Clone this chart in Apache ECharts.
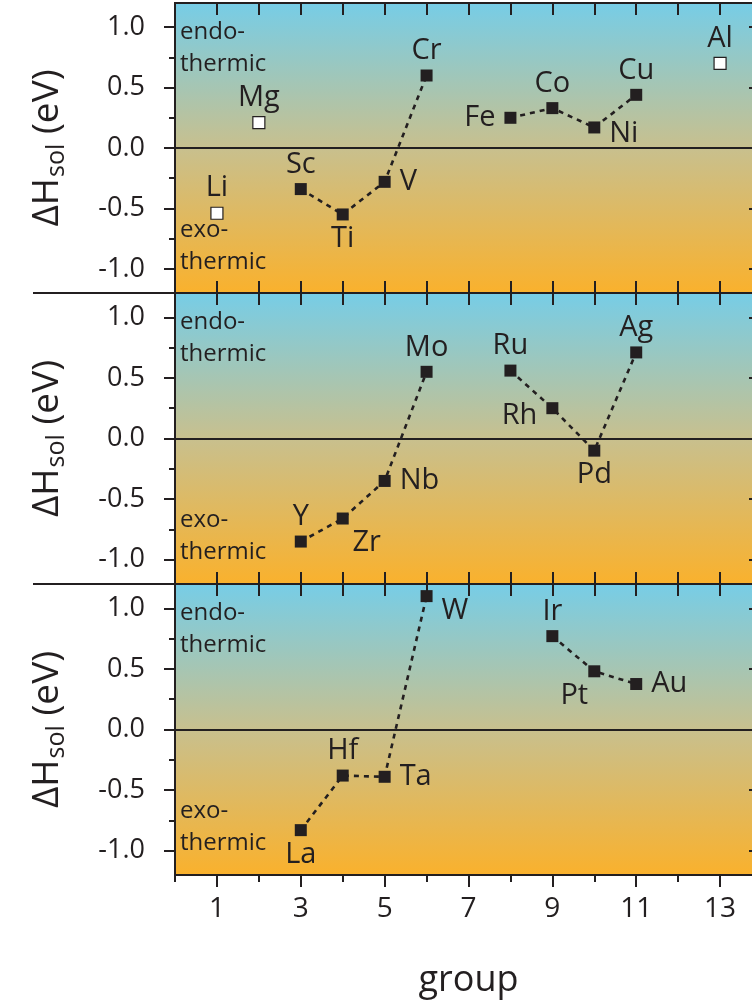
<!DOCTYPE html>
<html>
<head>
<meta charset="utf-8">
<script src="https://cdn.jsdelivr.net/npm/echarts@6/dist/echarts.min.js"></script>
<style>html,body{margin:0;padding:0;background:#fff;}#c{width:752px;height:1005px;}</style>
</head>
<body>
<div id="c"></div>
<script>
// ---------- data ----------
const row1OpenNames = ['Li', 'Mg', 'Al'];
const row1OpenX = [1, 2, 13];
const row1OpenY = [-0.54, 0.21, 0.70];

const row1ANames = ['Sc', 'Ti', 'V', 'Cr'];
const row1AX = [3, 4, 5, 6];
const row1AY = [-0.34, -0.55, -0.28, 0.60];
const row1BNames = ['Fe', 'Co', 'Ni', 'Cu'];
const row1BX = [8, 9, 10, 11];
const row1BY = [0.25, 0.33, 0.17, 0.44];

const row2ANames = ['Y', 'Zr', 'Nb', 'Mo'];
const row2AX = [3, 4, 5, 6];
const row2AY = [-0.85, -0.66, -0.35, 0.55];
const row2BNames = ['Ru', 'Rh', 'Pd', 'Ag'];
const row2BX = [8, 9, 10, 11];
const row2BY = [0.56, 0.25, -0.10, 0.71];

const row3ANames = ['La', 'Hf', 'Ta', 'W'];
const row3AX = [3, 4, 5, 6];
const row3AY = [-0.83, -0.38, -0.39, 1.10];
const row3BNames = ['Ir', 'Pt', 'Au'];
const row3BX = [9, 10, 11];
const row3BY = [0.77, 0.48, 0.375];

const xLabelValues = [1, 3, 5, 7, 9, 11, 13];
const xMinorValues = [0, 2, 4, 6, 8, 10, 12, 14];
const yLabelValues = [-1, -0.5, 0, 0.5, 1];
const yMinorValues = [-0.75, -0.25, 0.25, 0.75];
const xName = 'group';
const endoText = 'endo-\nthermic';
const exoText = 'exo-\nthermic';

// ---------- style ----------
const FONT = 'Open Sans';
const DARK = '#231F20';
const labelPlace = {
  Li: ['top', 0, 0], Mg: ['top', 0, 0], Al: ['top', 0, 0],
  Sc: ['top', 0, 0], Ti: ['bottom', 0, 0], V: ['right', 0, 0], Cr: ['top', 0, 0],
  Fe: ['left', 0, 0], Co: ['top', 0, 0], Ni: ['right', 0, 6], Cu: ['top', 0, 0],
  Y: ['top', 0, 0], Zr: ['bottom', 24, 0], Nb: ['right', 0, 0], Mo: ['top', 0, 0],
  Ru: ['top', 0, 0], Rh: ['left', 0, 8], Pd: ['bottom', 0, 0], Ag: ['top', 0, 0],
  La: ['bottom', 0, 0], Hf: ['top', 0, 0], Ta: ['right', 0, 0], W: ['right', 0, 15],
  Ir: ['top', 0, 0], Pt: ['bottom', -20, 0], Au: ['right', 0, 0]
};
const panelTops = [3, 293, 584];
const panelHeights = [290, 291, 291];
const gridLeft = 175, gridWidth = 587;

function items(names, xs, ys) {
  return names.map((n, i) => {
    const lp = labelPlace[n];
    const side = lp[0] === 'left' || lp[0] === 'right';
    return { name: n, value: [xs[i], ys[i]], label: { position: lp[0], offset: [lp[1], lp[2]], distance: side ? 9 : 4 } };
  });
}

const grad = () => new echarts.graphic.LinearGradient(0, 0, 0, 1, [
  { offset: 0, color: '#76CDE7' },
  { offset: 0.5, color: '#C8C08E' },
  { offset: 1, color: '#FAB12C' }
]);

const grids = [], xAxes = [], yAxes = [], series = [], graphics = [];
const tickStyle = { color: DARK, width: 2 };
const labelStyle = {
  show: true, formatter: '{b}', fontSize: 29, fontFamily: FONT, color: DARK, distance: 4,
  textBorderWidth: 0, textBorderColor: 'transparent', textShadowBlur: 0
};

const panelLines = [
  [[row1ANames, row1AX, row1AY], [row1BNames, row1BX, row1BY]],
  [[row2ANames, row2AX, row2AY], [row2BNames, row2BX, row2BY]],
  [[row3ANames, row3AX, row3AY], [row3BNames, row3BX, row3BY]]
];

for (let p = 0; p < 3; p++) {
  grids.push({
    left: gridLeft, width: gridWidth, top: panelTops[p], height: panelHeights[p],
    show: true, backgroundColor: grad(), borderColor: DARK, borderWidth: 2,
    outerBoundsMode: 'none', containLabel: false
  });
  const xTop = xAxes.length;
  xAxes.push({
    gridIndex: p, type: 'value', min: 0, max: 14, interval: 1, position: 'top',
    axisLine: { show: false, onZero: false },
    axisTick: { show: true, inside: true, length: 12, lineStyle: tickStyle },
    axisLabel: { show: false }, splitLine: { show: false }
  });
  if (p < 2) {
    xAxes.push({
      gridIndex: p, type: 'value', min: 0, max: 14, interval: 1, position: 'bottom',
      axisLine: { show: false, onZero: false },
      axisTick: { show: true, inside: true, length: 12, lineStyle: tickStyle },
      axisLabel: { show: false }, splitLine: { show: false }
    });
  } else {
    xAxes.push({
      gridIndex: p, type: 'value', min: 0, max: 14, interval: 1, position: 'bottom',
      axisLine: { show: false, onZero: false },
      axisTick: { show: true, inside: false, length: 12, lineStyle: tickStyle, customValues: xLabelValues },
      axisLabel: { show: true, customValues: xLabelValues, fontSize: 28, fontFamily: FONT, color: DARK, margin: 20 },
      splitLine: { show: false },
      name: xName, nameLocation: 'middle', nameGap: 88,
      nameTextStyle: { fontSize: 36, fontFamily: FONT, color: DARK }
    });
    xAxes.push({
      gridIndex: p, type: 'value', min: 0, max: 14, interval: 1, position: 'bottom',
      axisLine: { show: false, onZero: false },
      axisTick: { show: true, inside: false, length: 7, lineStyle: tickStyle, customValues: xMinorValues },
      axisLabel: { show: false }, splitLine: { show: false }
    });
  }
  const yLeft = yAxes.length;
  yAxes.push({
    gridIndex: p, type: 'value', min: -1.2, max: 1.2, position: 'left',
    axisLine: { show: false, onZero: false },
    axisTick: { show: true, inside: false, length: 11, lineStyle: tickStyle, customValues: yLabelValues },
    axisLabel: { show: true, customValues: yLabelValues, formatter: v => v.toFixed(1), fontSize: 27, fontFamily: FONT, color: DARK, margin: 30 },
    splitLine: { show: false },
    name: '{a|ΔH}{s|sol}{a| (eV)}', nameLocation: 'middle', nameGap: 106, nameRotate: 90,
    nameTextStyle: {
      color: DARK, fontFamily: FONT,
      rich: {
        a: { fontSize: 37, fontFamily: FONT, color: DARK },
        s: { fontSize: 25, fontFamily: FONT, color: DARK, padding: [18, 0, 0, 1] }
      }
    }
  });
  yAxes.push({
    gridIndex: p, type: 'value', min: -1.2, max: 1.2, position: 'left',
    axisLine: { show: false, onZero: false },
    axisTick: { show: true, inside: false, length: 6, lineStyle: tickStyle, customValues: yMinorValues },
    axisLabel: { show: false }, splitLine: { show: false }
  });
  yAxes.push({
    gridIndex: p, type: 'value', min: -1.2, max: 1.2, position: 'right',
    axisLine: { show: false, onZero: false },
    axisTick: { show: true, inside: true, length: 13, lineStyle: tickStyle, customValues: yLabelValues },
    axisLabel: { show: false }, splitLine: { show: false }
  });

  panelLines[p].forEach((ln, k) => {
    const s = {
      type: 'line', xAxisIndex: xTop, yAxisIndex: yLeft,
      data: items(ln[0], ln[1], ln[2]),
      symbol: 'rect', symbolSize: 12, showSymbol: true,
      itemStyle: { color: DARK },
      lineStyle: { color: DARK, width: 2.6, type: [5, 5] },
      label: labelStyle, animation: false, z: 3
    };
    if (k === 0) {
      s.markLine = {
        silent: true, symbol: 'none', label: { show: false },
        lineStyle: { color: DARK, type: 'solid', width: 2 },
        data: [{ yAxis: 0 }], animation: false
      };
    }
    series.push(s);
  });
  if (p === 0) {
    series.push({
      type: 'scatter', xAxisIndex: xTop, yAxisIndex: yLeft,
      data: items(row1OpenNames, row1OpenX, row1OpenY),
      symbol: 'rect', symbolSize: 12,
      itemStyle: { color: '#FFFFFF', borderColor: DARK, borderWidth: 1.2, opacity: 1 },
      label: labelStyle, animation: false, z: 3
    });
  }

  graphics.push({
    type: 'text', x: 180, y: panelTops[p] + 13, z: 10,
    style: { text: endoText, fontSize: 24, fontFamily: FONT, fill: DARK, lineHeight: 32, verticalAlign: 'top' }
  });
  graphics.push({
    type: 'text', x: 180, y: panelTops[p] + 211, z: 10,
    style: { text: exoText, fontSize: 24, fontFamily: FONT, fill: DARK, lineHeight: 32, verticalAlign: 'top' }
  });
  if (p > 0) {
    graphics.push({
      type: 'line', z: 10,
      shape: { x1: 33, y1: panelTops[p], x2: gridLeft, y2: panelTops[p] },
      style: { stroke: DARK, lineWidth: 2 }
    });
  }
}

const chart = echarts.init(document.getElementById('c'), null, { renderer: 'canvas' });
chart.setOption({
  animation: false,
  backgroundColor: '#FFFFFF',
  textStyle: { fontFamily: FONT },
  grid: grids, xAxis: xAxes, yAxis: yAxes, series: series, graphic: graphics
});
</script>
</body>
</html>
